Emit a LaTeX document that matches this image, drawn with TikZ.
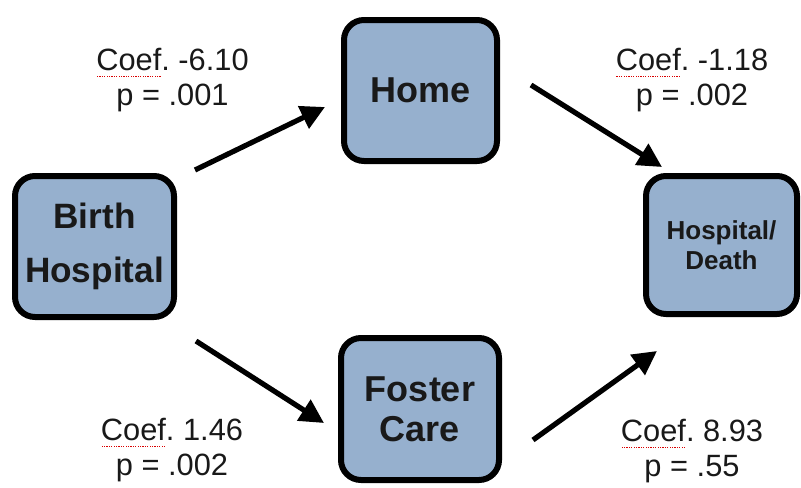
\documentclass[tikz,border=0pt]{standalone}
\usepackage{fontspec}
\setmainfont{Liberation Sans}
\usepackage{xcolor}
\usetikzlibrary{arrows.meta,positioning,calc}

\definecolor{boxblue}{RGB}{150,176,206}
\newcommand{\spellmark}[1]{\setbox0\hbox{#1}\rlap{\color{red!85!black}\leaders\hbox to 1.2pt{\hss\rule[-0.4ex]{0.6pt}{0.6pt}\hss}\hskip\wd0}#1}

\begin{document}
\begin{tikzpicture}[x=0.5pt, y=-0.5pt,
    stage/.style={draw=black, fill=boxblue, line width=3pt, rounded corners=10pt, inner sep=1pt, align=center, text=black!90},
    coef/.style={align=center, font=\fontsize{15.4}{17.5}\selectfont, text=black!90},
    flow/.style={-{Triangle[length=12pt,width=12pt]}, line width=2.6pt, black}]
    \useasboundingbox (0,0) rectangle (801,487);

    % Nodes
    \node[stage, minimum width=79.5pt, minimum height=70.5pt, font=\fontsize{17.6}{27}\selectfont\bfseries] (birth) at (94.5,246.5) {Birth\\Hospital};
    \node[stage, minimum width=76.5pt, minimum height=70.5pt, font=\fontsize{18}{20}\selectfont\bfseries] (home) at (420.5,90.5) {Home};
    \node[stage, minimum width=79pt, minimum height=71pt, font=\fontsize{18}{20}\selectfont\bfseries] (foster) at (420,409) {Foster\\Care};
    \node[stage, minimum width=75.5pt, minimum height=69pt, font=\fontsize{13}{15}\selectfont\bfseries] (hosp) at (721.5,245) {Hospital/\\Death};

    % Connections
    \draw[flow] ([shift={(18,-3)}]birth.north east) -- ([shift={(-16,16.5)}]home.west);
    \draw[flow] ([shift={(31,-5.5)}]home.east) -- ([shift={(19,-6)}]hosp.north west);
    \draw[flow] ([shift={(19,21)}]birth.south east) -- ([shift={(-14,14)}]foster.west);
    \draw[flow] ([shift={(31,31)}]foster.east) -- ([shift={(14,34)}]hosp.south west);

    % Coefficients
    \node[coef] (c-home) at (172.5,80) {\spellmark{Coef}.\ -6.10\\p = .001};
    \node[coef] (c-hosp) at (692,80) {\spellmark{Coef}.\ -1.18\\p = .002};
    \node[coef] (c-foster) at (172,450) {\spellmark{Coef}.\ 1.46\\p = .002};
    \node[coef] (c-death) at (692,451) {\spellmark{Coef}.\ 8.93\\p = .55};
\end{tikzpicture}
\end{document}
